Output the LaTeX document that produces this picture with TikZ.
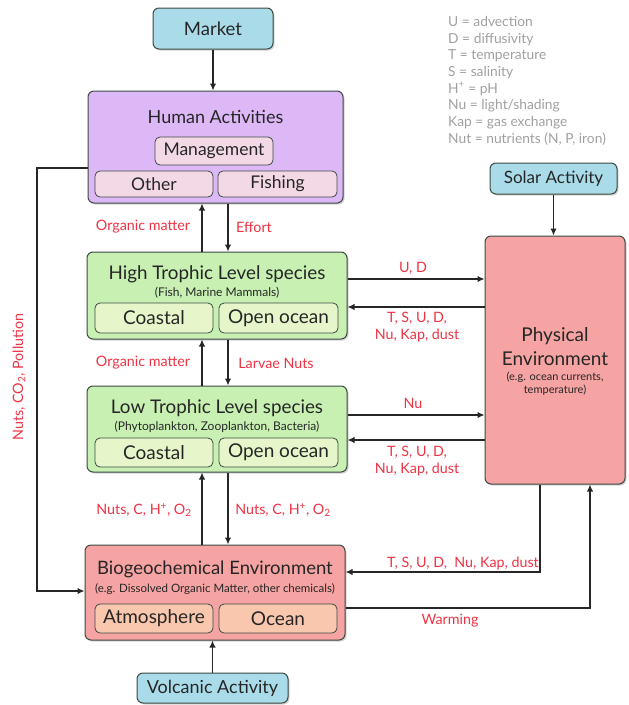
\documentclass[tikz,border=0pt]{standalone}
\usepackage{fontspec}
\setmainfont{Lato}
\usetikzlibrary{arrows.meta,shadows}
\definecolor{cyanF}{HTML}{A9DCE8}
\definecolor{lavF}{HTML}{DCB8F6}
\definecolor{lavSub}{HTML}{F3D9E6}
\definecolor{grnF}{HTML}{C8F0B2}
\definecolor{grnSub}{HTML}{E6F6CA}
\definecolor{redF}{HTML}{F6A3A3}
\definecolor{redSub}{HTML}{F9C6AE}
\definecolor{edge}{HTML}{3C4A44}
\definecolor{lbl}{HTML}{EE3344}
\definecolor{legendc}{HTML}{A0A0A0}
\begin{document}
\begin{tikzpicture}[x=1pt,y=-1pt,
 box/.style={draw=edge, line width=1pt, rounded corners=6pt, inner sep=0pt,
   drop shadow={shadow xshift=1.5pt,shadow yshift=-1.5pt,opacity=0.35}},
 subbox/.style={draw=edge, line width=0.8pt, rounded corners=5pt, inner sep=0pt},
 ttl/.style={font=\fontsize{18}{20}\selectfont, text=black!85},
 subt/.style={font=\fontsize{12}{13}\selectfont, text=black!85},
 lab/.style={font=\fontsize{14.3}{17}\selectfont, text=lbl, align=center},
 arr/.style={line width=1.4pt, draw=black!85, -{Latex[length=7pt,width=6.5pt]}},
]
\useasboundingbox (0,0) rectangle (629,705);

% legend
\node[anchor=north west, align=left, text=legendc, font=\fontsize{13.8}{16.7}\selectfont, inner sep=0pt] (legend) at (448,16)
 {U = advection\\D = diffusivity\\T = temperature\\S = salinity\\H\textsuperscript{+} = pH\\Nu = light/shading\\Kap = gas exchange\\Nut = nutrients (N, P, iron)};

% top / bottom drivers
\node[box, fill=cyanF, minimum width=120pt, minimum height=41pt, ttl, font=\fontsize{18.5}{20}\selectfont] (market) at (213,28.5) {Market};
\node[box, fill=cyanF, minimum width=127pt, minimum height=31pt, ttl, font=\fontsize{17}{18}\selectfont] (solar) at (553.5,178.5) {Solar Activity};
\node[box, fill=cyanF, minimum width=151pt, minimum height=30pt, ttl, font=\fontsize{18}{20}\selectfont] (volc) at (212.5,688) {Volcanic Activity};

% human activities
\node[box, fill=lavF, minimum width=255pt, minimum height=112pt] (human) at (215.5,147) {};
\node[ttl] (humant) at (215.5,117) {Human Activities};
\node[subbox, fill=lavSub, minimum width=118pt, minimum height=28pt, ttl, font=\fontsize{17.5}{18}\selectfont] (mgmt) at (214,151) {Management};
\node[subbox, fill=lavSub, minimum width=118pt, minimum height=26pt, ttl, font=\fontsize{17.5}{18}\selectfont] (other) at (154,184) {Other};
\node[subbox, fill=lavSub, minimum width=119pt, minimum height=26pt, ttl, font=\fontsize{17.5}{18}\selectfont] (fishing) at (277.5,184) {Fishing};

% high trophic
\node[box, fill=grnF, minimum width=260pt, minimum height=87pt] (high) at (217,295.5) {};
\node[ttl, font=\fontsize{18.8}{20}\selectfont] (hight) at (217,274) {High Trophic Level species};
\node[subt] (highs) at (217,293) {(Fish, Marine Mammals)};
\node[subbox, fill=grnSub, minimum width=118pt, minimum height=30pt, ttl, font=\fontsize{19}{20}\selectfont] (hcoast) at (154,318) {Coastal};
\node[subbox, fill=grnSub, minimum width=119pt, minimum height=30pt, ttl, font=\fontsize{19}{20}\selectfont] (hopen) at (278.5,318) {Open ocean};

% low trophic
\node[box, fill=grnF, minimum width=260pt, minimum height=86pt] (low) at (217,429) {};
\node[ttl, font=\fontsize{18.8}{20}\selectfont] (lowt) at (217,408) {Low Trophic Level species};
\node[subt] (lows) at (217,427) {(Phytoplankton, Zooplankton, Bacteria)};
\node[subbox, fill=grnSub, minimum width=118pt, minimum height=29pt, ttl, font=\fontsize{19}{20}\selectfont] (lcoast) at (154,452.5) {Coastal};
\node[subbox, fill=grnSub, minimum width=119pt, minimum height=29pt, ttl, font=\fontsize{19}{20}\selectfont] (lopen) at (278.5,452.5) {Open ocean};

% biogeochemical
\node[box, fill=redF, minimum width=260pt, minimum height=95pt] (bio) at (215,592.5) {};
\node[ttl, font=\fontsize{18.5}{20}\selectfont] (biot) at (215,569) {Biogeochemical Environment};
\node[subt, font=\fontsize{11.5}{12}\selectfont] (bios) at (215,589) {(e.g. Dissolved Organic Matter, other chemicals)};
\node[subbox, fill=redSub, minimum width=118pt, minimum height=29pt, ttl, font=\fontsize{19}{20}\selectfont] (atmo) at (154,618.5) {Atmosphere};
\node[subbox, fill=redSub, minimum width=118pt, minimum height=29pt, ttl, font=\fontsize{19}{20}\selectfont] (ocean) at (278,618.5) {Ocean};

% physical
\node[box, fill=redF, minimum width=140pt, minimum height=248pt] (phys) at (555,360) {};
\node[ttl, font=\fontsize{19}{24}\selectfont, align=center] (physt) at (555,347) {Physical\\Environment};
\node[subt, font=\fontsize{11}{13}\selectfont, align=center] (physs) at (555,383.5) {(e.g. ocean currents,\\temperature)};

% connectors
\draw[arr] (market.south) -- (market.south |- human.north);
\draw[arr] (solar.south) -- (solar.south |- phys.north);
\draw[arr] (volc.north) -- (volc.north |- bio.south);

\draw[arr] ([xshift=-15pt]high.north) -- ([xshift=-15pt]high.north |- human.south);
\draw[arr] ([xshift=11pt]human.south -| high.north) -- ([xshift=11pt]high.north);
\draw[arr] ([xshift=-15pt]low.north) -- ([xshift=-15pt]low.north |- high.south);
\draw[arr] ([xshift=11pt]high.south) -- ([xshift=11pt]high.south |- low.north);
\draw[arr] ([xshift=-15pt]low.south |- bio.north) -- ([xshift=-15pt]low.south);
\draw[arr] ([xshift=11pt]low.south) -- ([xshift=11pt]low.south |- bio.north);

\draw[arr] ([yshift=16.5pt]high.east) -- ([yshift=16.5pt]high.east -| phys.west);
\draw[arr] ([yshift=-11.5pt]high.east -| phys.west) -- ([yshift=-11.5pt]high.east);
\draw[arr] ([yshift=14pt]low.east) -- ([yshift=14pt]low.east -| phys.west);
\draw[arr] ([yshift=-11pt]low.east -| phys.west) -- ([yshift=-11pt]low.east);

\draw[arr] ([xshift=-15pt]phys.south) |- ([yshift=20.5pt]bio.east);
\draw[arr] ([yshift=-15.5pt]bio.east) -| ([xshift=35pt]phys.south);

\coordinate (lft) at (37,0);
\coordinate (hA) at ([yshift=-21pt]human.west);
\coordinate (bA) at ([yshift=1.5pt]bio.west);
\draw[arr] (hA) -| (lft |- bA) -- (bA);

% labels
\node[lab] (l1) at (143,227) {Organic matter};
\node[lab] (l2) at (254,227) {Effort};
\node[lab] (l3) at (143,363) {Organic matter};
\node[lab] (l4) at (276,363) {Larvae Nuts};
\node[lab] (l5) at (413,268) {U, D};
\node[lab] (l6) at (417,327.5) {T, S, U, D,\\Nu, Kap, dust};
\node[lab] (l7) at (413,403) {Nu};
\node[lab] (l8) at (417,461) {T, S, U, D,\\Nu, Kap, dust};
\node[lab] (l9) at (144,510) {Nuts, C, H\textsuperscript{+}, O\textsubscript{2}};
\node[lab] (l10) at (283,510) {Nuts, C, H\textsuperscript{+}, O\textsubscript{2}};
\node[lab] (l11) at (463,563) {T, S, U, D,\ \ Nu, Kap, dust};
\node[lab] (l12) at (450,621) {Warming};
\node[lab, rotate=90] (l13) at (19,377) {Nuts, CO\textsubscript{2}, Pollution};
\end{tikzpicture}
\end{document}
